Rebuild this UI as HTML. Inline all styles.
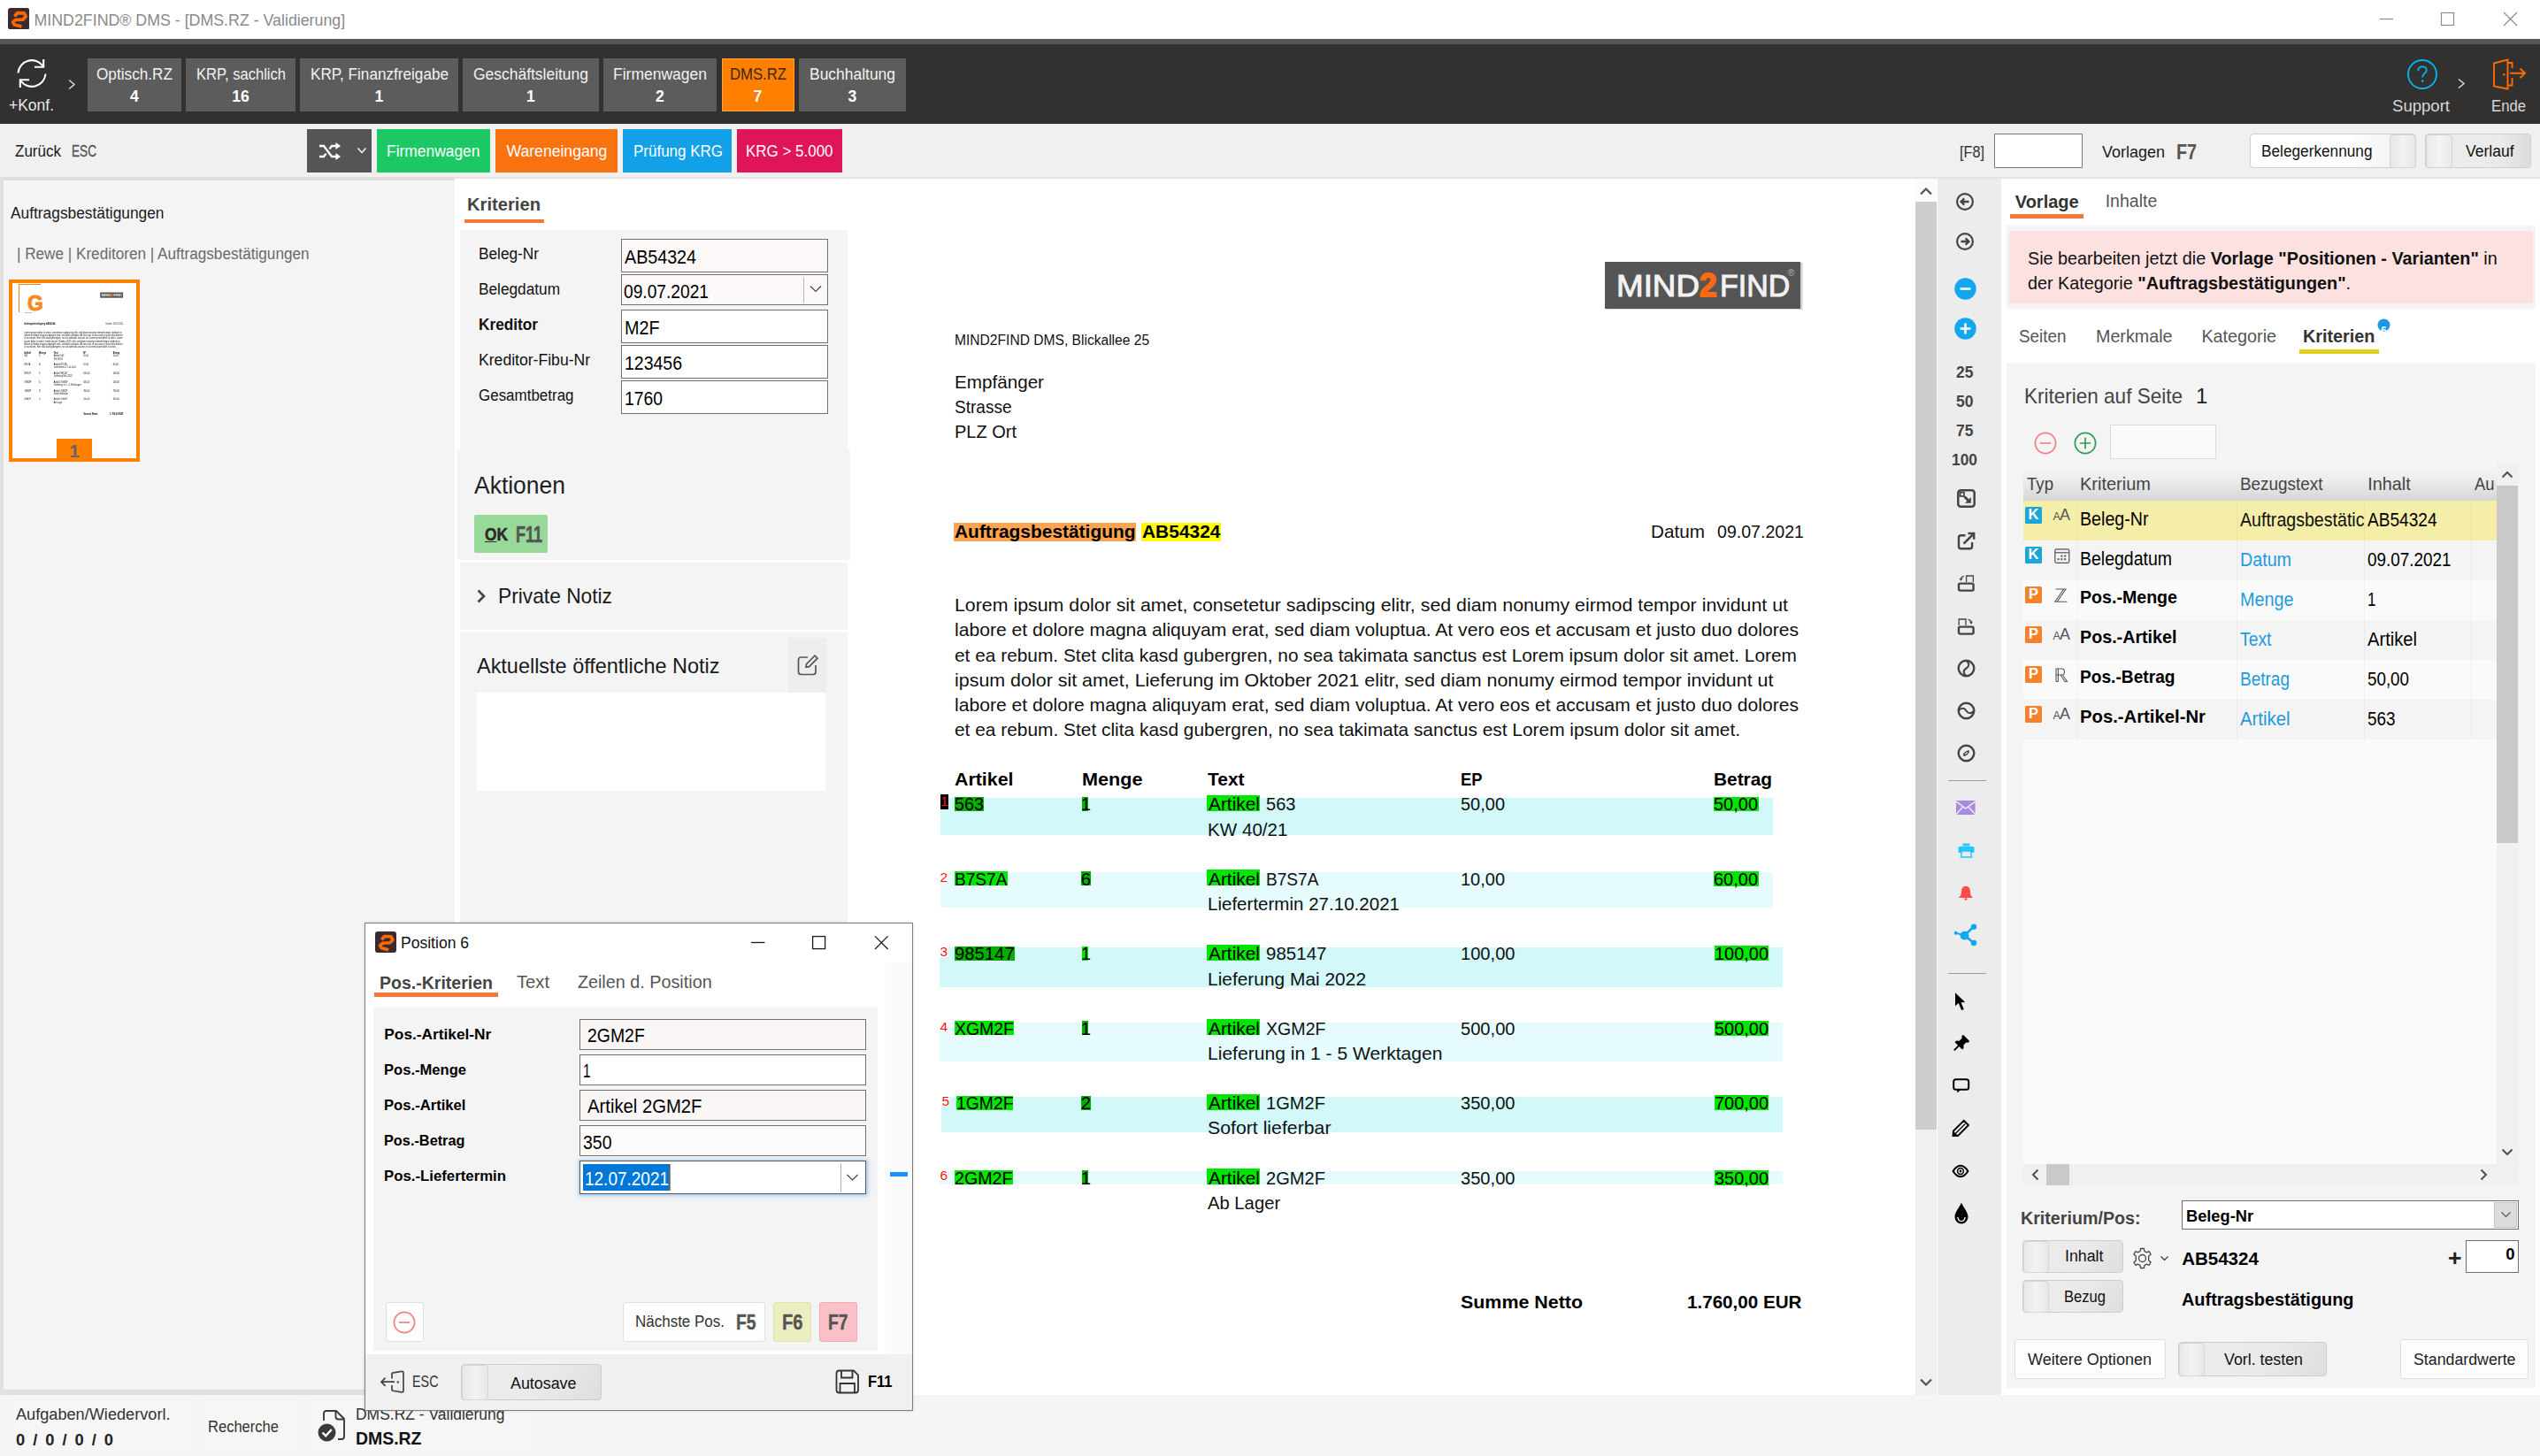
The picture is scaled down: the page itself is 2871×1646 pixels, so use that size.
<!DOCTYPE html>
<html><head><meta charset="utf-8"><title>MIND2FIND DMS</title>
<style>
html,body{margin:0;padding:0;background:#fff;}
body{width:2871px;height:1646px;position:relative;overflow:hidden;font-family:"Liberation Sans",sans-serif;}
.b{position:absolute;}
.t{position:absolute;white-space:nowrap;line-height:1;transform-origin:0 0;}
</style></head>
<body>
<div class="b" style="left:0.0px;top:0.0px;width:2871.0px;height:44.0px;background:#ffffff;"></div>
<svg class="b" style="left:8.8px;top:8.8px;" width="24.4" height="24.4" viewBox="0 0 24.4 24.4"><rect x="0" y="0" width="24.4" height="24.4" rx="3" fill="#3b2b30"/><path d="M6.6 10.2 L9.6 5.6 L17.6 4.8 L20.2 8.6 L17.4 12.6 L8.2 14.4 L5.6 17.6 L8 20.4 L16.8 21.4" fill="none" stroke="#ff6a00" stroke-width="4" stroke-linejoin="round" transform="rotate(8 12 12) translate(1 0.6) scale(0.93)"/></svg>
<span class="t" style="top:15.3px;font-size:17.8px;color:#8a8a8a;left:38.5px;">MIND2FIND® DMS - [DMS.RZ - Validierung]</span>
<svg class="b" style="left:2684.0px;top:8.0px;" width="170" height="28" viewBox="0 0 170 28"><g stroke="#8c8c8c" stroke-width="1.2" fill="none"><path d="M6 13.5H21"/><rect x="75.5" y="6.5" width="14" height="14"/><path d="M146 6 L161 21 M161 6 L146 21"/></g></svg>
<div class="b" style="left:0.0px;top:44.0px;width:2871.0px;height:6.0px;background:#555556;"></div>
<div class="b" style="left:0.0px;top:50.0px;width:2871.0px;height:90.0px;background:#323130;"></div>
<svg class="b" style="left:17.0px;top:64.0px;" width="38" height="38" viewBox="0 0 38 38"><g fill="none" stroke="#fff" stroke-width="2.1"><path d="M3.5 18.5 A15.5 15.5 0 0 1 31.5 10.5"/><path d="M34.5 19.5 A15.5 15.5 0 0 1 6.5 27.5"/><path d="M22 11.8 H32.2 V3"/><path d="M16 26.2 H5.8 V35"/></g></svg>
<span class="t" style="top:111.1px;font-size:17.6px;color:#e8e8e8;left:9.5px;transform:scaleX(0.9930);">+Konf.</span>
<svg class="b" style="left:76.0px;top:89.0px;" width="10" height="13" viewBox="0 0 10 13"><path d="M2 1.5 L8 6.5 L2 11.5" fill="none" stroke="#e0e0e0" stroke-width="1.4"/></svg>
<div class="b" style="left:99.0px;top:66.0px;width:106.0px;height:60.0px;background:#5c5c5c;"></div>
<span class="t" style="top:76.0px;font-size:17.6px;color:#f2f2f2;left:109.0px;transform:scaleX(0.9773);">Optisch.RZ</span>
<span class="t" style="top:100.8px;font-size:17.6px;color:#ffffff;font-weight:bold;left:147.1px;">4</span>
<div class="b" style="left:210.0px;top:66.0px;width:124.0px;height:60.0px;background:#5c5c5c;"></div>
<span class="t" style="top:76.0px;font-size:17.6px;color:#f2f2f2;left:221.5px;transform:scaleX(0.9417);">KRP, sachlich</span>
<span class="t" style="top:100.8px;font-size:17.6px;color:#ffffff;font-weight:bold;left:262.2px;">16</span>
<div class="b" style="left:339.0px;top:66.0px;width:179.0px;height:60.0px;background:#5c5c5c;"></div>
<span class="t" style="top:76.0px;font-size:17.6px;color:#f2f2f2;left:350.5px;transform:scaleX(0.9745);">KRP, Finanzfreigabe</span>
<span class="t" style="top:100.8px;font-size:17.6px;color:#ffffff;font-weight:bold;left:423.6px;">1</span>
<div class="b" style="left:523.0px;top:66.0px;width:154.0px;height:60.0px;background:#5c5c5c;"></div>
<span class="t" style="top:76.0px;font-size:17.6px;color:#f2f2f2;left:535.0px;transform:scaleX(0.9919);">Geschäftsleitung</span>
<span class="t" style="top:100.8px;font-size:17.6px;color:#ffffff;font-weight:bold;left:595.1px;">1</span>
<div class="b" style="left:682.0px;top:66.0px;width:128.0px;height:60.0px;background:#5c5c5c;"></div>
<span class="t" style="top:76.0px;font-size:17.6px;color:#f2f2f2;left:693.0px;transform:scaleX(0.9944);">Firmenwagen</span>
<span class="t" style="top:100.8px;font-size:17.6px;color:#ffffff;font-weight:bold;left:741.1px;">2</span>
<div class="b" style="left:815.5px;top:66.0px;width:82.0px;height:60.0px;background:#ff8000;border:1px solid #ffa040;box-sizing:border-box;"></div>
<span class="t" style="top:76.0px;font-size:17.6px;color:#3a2a10;left:824.5px;transform:scaleX(0.9490);">DMS.RZ</span>
<span class="t" style="top:100.8px;font-size:17.6px;color:#ffffff;font-weight:bold;left:851.6px;">7</span>
<div class="b" style="left:903.0px;top:66.0px;width:121.0px;height:60.0px;background:#5c5c5c;"></div>
<span class="t" style="top:76.0px;font-size:17.6px;color:#f2f2f2;left:915.0px;transform:scaleX(0.9915);">Buchhaltung</span>
<span class="t" style="top:100.8px;font-size:17.6px;color:#ffffff;font-weight:bold;left:958.6px;">3</span>
<svg class="b" style="left:2720.0px;top:66.0px;" width="36" height="36" viewBox="0 0 36 36"><circle cx="18" cy="18" r="16" fill="none" stroke="#00b7f1" stroke-width="1.8"/><path d="M13.2 14.2 C13.2 10.6 16 9.4 18.2 9.4 C20.8 9.4 22.8 11 22.8 13.4 C22.8 16.6 18.2 16.8 18.2 21.4" fill="none" stroke="#00b7f1" stroke-width="1.8"/><circle cx="18.2" cy="25.6" r="1.3" fill="#00b7f1"/></svg>
<span class="t" style="top:111.7px;font-size:17.6px;color:#d8d8d8;left:2704.0px;transform:scaleX(1.0548);">Support</span>
<svg class="b" style="left:2777.0px;top:88.0px;" width="10" height="13" viewBox="0 0 10 13"><path d="M2 1.5 L8 6.5 L2 11.5" fill="none" stroke="#e0e0e0" stroke-width="1.4"/></svg>
<svg class="b" style="left:2815.0px;top:64.0px;" width="42" height="40" viewBox="0 0 42 40"><g fill="none" stroke="#ff6a00" stroke-width="1.9"><path d="M4 7.5 L19.5 3.5 V36.5 L4 33.5 Z"/><path d="M19.5 7 H24.5 V13 M24.5 24 V32.5 H19.5"/><path d="M22 18.8 H39 M33.5 13.5 L39 18.8 L33.5 24"/></g><circle cx="15.3" cy="20.3" r="1.3" fill="#ff6a00"/></svg>
<span class="t" style="top:111.7px;font-size:17.6px;color:#d8d8d8;left:2815.5px;transform:scaleX(0.9490);">Ende</span>
<div class="b" style="left:0.0px;top:140.0px;width:2871.0px;height:60.0px;background:#f0f0f0;"></div>
<div class="b" style="left:0.0px;top:200.0px;width:2871.0px;height:2.0px;background:#e3e3e3;"></div>
<span class="t" style="top:163.4px;font-size:17.6px;color:#1a1a1a;left:17.3px;transform:scaleX(0.9669);">Zurück</span>
<span class="t" style="top:163.4px;font-size:17.6px;color:#555;left:80.5px;transform:scaleX(0.7737);-webkit-text-stroke:0.35px #555;">ESC</span>
<div class="b" style="left:347.0px;top:146.0px;width:73.0px;height:49.0px;background:#555555;"></div>
<svg class="b" style="left:360.0px;top:160.0px;" width="26" height="22" viewBox="0 0 26 22"><g fill="none" stroke="#fff" stroke-width="2.3"><path d="M1 5 H6 L15 17 H21"/><path d="M1 17 H6 L8.6 13.6 M12.4 8.4 L15 5 H21"/></g><path d="M19.5 1 L25 5 L19.5 9 Z M19.5 13 L25 17 L19.5 21 Z" fill="#fff"/></svg>
<svg class="b" style="left:403.0px;top:166.0px;" width="12" height="9" viewBox="0 0 12 9"><path d="M1.5 1.5 L6 6.5 L10.5 1.5" fill="none" stroke="#fff" stroke-width="1.4"/></svg>
<div class="b" style="left:426.0px;top:146.0px;width:128.0px;height:49.0px;background:#1cc864;"></div>
<span class="t" style="top:163.2px;font-size:17.6px;color:#fff;left:437.4px;transform:scaleX(0.9897);">Firmenwagen</span>
<div class="b" style="left:560.0px;top:146.0px;width:137.7px;height:49.0px;background:#f97210;"></div>
<span class="t" style="top:163.2px;font-size:17.6px;color:#fff;left:572.5px;">Wareneingang</span>
<div class="b" style="left:703.8px;top:146.0px;width:123.0px;height:49.0px;background:#12a0e8;"></div>
<span class="t" style="top:163.2px;font-size:17.6px;color:#fff;left:715.5px;transform:scaleX(0.9652);">Prüfung KRG</span>
<div class="b" style="left:832.8px;top:146.0px;width:119.2px;height:49.0px;background:#e01458;"></div>
<span class="t" style="top:163.2px;font-size:17.6px;color:#fff;left:843.0px;transform:scaleX(0.9636);">KRG &gt; 5.000</span>
<span class="t" style="top:163.7px;font-size:17.6px;color:#333;left:2215.4px;transform:scaleX(0.9237);">[F8]</span>
<div class="b" style="left:2254.0px;top:151.0px;width:100.0px;height:38.5px;background:#fff;border:1.3px solid #7a7a7a;box-sizing:border-box;"></div>
<span class="t" style="top:163.5px;font-size:17.6px;color:#1a1a1a;left:2376.0px;transform:scaleX(1.0220);">Vorlagen</span>
<span class="t" style="top:161.1px;font-size:23px;color:#555;font-weight:bold;left:2460.0px;transform:scaleX(0.8568);">F7</span>
<div class="b" style="left:2543.0px;top:151.0px;width:188.0px;height:39.0px;background:linear-gradient(90deg,#fff 0%,#fff 60%,#ececec 100%);border:1px solid #cfcfcf;box-sizing:border-box;border-radius:4px;"></div>
<div class="b" style="left:2700.5px;top:151.5px;width:30.0px;height:38.0px;background:linear-gradient(90deg,#e6e6e6,#f2f2f2 50%,#e6e6e6);border:1px solid #d4d4d4;box-sizing:border-box;border-radius:4px;"></div>
<span class="t" style="top:162.5px;font-size:17.6px;color:#111;left:2555.5px;transform:scaleX(0.9793);">Belegerkennung</span>
<div class="b" style="left:2741.0px;top:151.0px;width:120.0px;height:39.0px;background:linear-gradient(90deg,#ececec 0%,#eaeaea 70%,#dcdcdc 100%);border:1px solid #cfcfcf;box-sizing:border-box;border-radius:4px;"></div>
<div class="b" style="left:2741.5px;top:151.5px;width:30.5px;height:38.0px;background:linear-gradient(90deg,#e9e9e9,#f4f4f4 50%,#e9e9e9);border:1px solid #d4d4d4;box-sizing:border-box;border-radius:4px;"></div>
<span class="t" style="top:162.5px;font-size:17.6px;color:#111;left:2786.5px;transform:scaleX(0.9949);">Verlauf</span>
<div class="b" style="left:0.0px;top:200.0px;width:514.0px;height:1377.0px;background:#f4f4f4;"></div>
<div class="b" style="left:0.0px;top:200.0px;width:514.0px;height:4.0px;background:#dedede;"></div>
<div class="b" style="left:0.0px;top:200.0px;width:4.0px;height:1377.0px;background:#e0e0e0;"></div>
<div class="b" style="left:0.0px;top:1571.0px;width:514.0px;height:6.0px;background:#e0e0e0;"></div>
<span class="t" style="top:233.2px;font-size:17.6px;color:#1a1a1a;left:11.8px;transform:scaleX(0.9854);">Auftragsbestätigungen</span>
<span class="t" style="top:278.5px;font-size:17.6px;color:#6a6a6a;left:19.0px;transform:scaleX(0.9738);">| Rewe | Kreditoren | Auftragsbestätigungen</span>
<div class="b" style="left:10.0px;top:316.0px;width:148.0px;height:206.0px;background:#fff;border:4px solid #ff8000;box-sizing:border-box;"></div>
<div class="b" style="left:21.0px;top:321.0px;width:25.0px;height:1px;background:#ff8000"></div><div class="b" style="left:21.0px;top:321.0px;width:1.0px;height:32px;background:#ff8000"></div><div class="b" style="left:30.5px;top:330.5px;font-size:24px;line-height:1;font-weight:bold;color:#f58a1e;-webkit-text-stroke:1px #f58a1e;transform:scaleX(.95);transform-origin:0 0">G</div><div class="b" style="left:27.5px;top:352.5px;width:8.0px;height:1px;background:rgba(120,120,120,.5)"></div>
<div class="b" style="left:64.0px;top:496.0px;width:40.0px;height:22.5px;background:#ff8000;"></div>
<span class="t" style="top:498.9px;font-size:21px;color:#666;font-weight:bold;left:78.2px;">1</span>
<span class="t" style="top:221.2px;font-size:20.5px;color:#444;font-weight:bold;left:528.0px;transform:scaleX(0.9844);">Kriterien</span>
<div class="b" style="left:525.0px;top:247.5px;width:90.0px;height:4.5px;background:#f57a38;"></div>
<div class="b" style="left:519.7px;top:260.0px;width:438.3px;height:249.0px;background:#f4f4f4;"></div>
<span class="t" style="top:279.2px;font-size:17.6px;color:#111;left:541.0px;transform:scaleX(0.9795);">Beleg-Nr</span>
<div class="b" style="left:702.0px;top:270.3px;width:234.0px;height:37.4px;background:#fcf8f8;border:1.3px solid #707070;box-sizing:border-box;"></div>
<span class="t" style="top:281.1px;font-size:21.5px;color:#000;left:705.8px;transform:scaleX(0.9156);">AB54324</span>
<span class="t" style="top:319.2px;font-size:17.6px;color:#111;left:541.0px;transform:scaleX(0.9797);">Belegdatum</span>
<div class="b" style="left:702.0px;top:310.0px;width:234.0px;height:34.8px;background:#fcf8f8;border:1.3px solid #707070;box-sizing:border-box;"></div>
<span class="t" style="top:319.5px;font-size:21.5px;color:#000;left:704.8px;transform:scaleX(0.8921);">09.07.2021</span>
<span class="t" style="top:359.2px;font-size:17.6px;color:#111;font-weight:bold;left:541.0px;transform:scaleX(0.9790);">Kreditor</span>
<div class="b" style="left:702.0px;top:350.3px;width:234.0px;height:37.4px;background:#fff;border:1.3px solid #707070;box-sizing:border-box;"></div>
<span class="t" style="top:361.1px;font-size:21.5px;color:#000;left:705.8px;transform:scaleX(0.9186);">M2F</span>
<span class="t" style="top:399.2px;font-size:17.6px;color:#111;left:541.0px;">Kreditor-Fibu-Nr</span>
<div class="b" style="left:702.0px;top:390.3px;width:234.0px;height:37.4px;background:#fff;border:1.3px solid #707070;box-sizing:border-box;"></div>
<span class="t" style="top:401.1px;font-size:21.5px;color:#000;left:705.8px;transform:scaleX(0.9059);">123456</span>
<span class="t" style="top:439.2px;font-size:17.6px;color:#111;left:541.0px;transform:scaleX(0.9643);">Gesamtbetrag</span>
<div class="b" style="left:702.0px;top:430.3px;width:234.0px;height:37.4px;background:#fff;border:1.3px solid #707070;box-sizing:border-box;"></div>
<span class="t" style="top:441.1px;font-size:21.5px;color:#000;left:705.8px;transform:scaleX(0.8988);">1760</span>
<div class="b" style="left:908.0px;top:313.0px;width:1.2px;height:29.5px;background:#b8b8b8;"></div>
<svg class="b" style="left:914.0px;top:321.0px;" width="16" height="12" viewBox="0 0 16 12"><path d="M2 2.5 L8 8.5 L14 2.5" fill="none" stroke="#444" stroke-width="1.2"/></svg>
<div class="b" style="left:517.0px;top:509.0px;width:444.0px;height:123.5px;background:#f4f4f4;"></div>
<span class="t" style="top:535.1px;font-size:27.5px;color:#222;left:536.0px;transform:scaleX(0.9623);">Aktionen</span>
<div class="b" style="left:536.0px;top:581.7px;width:83.0px;height:42.9px;background:#98d898;border-radius:2px;"></div>
<span class="t" style="top:595.2px;font-size:19.5px;color:#2a2a2a;font-weight:bold;left:548.0px;transform:scaleX(0.8884);-webkit-text-stroke:0.5px #2a2a2a;"><u>O</u>K</span>
<span class="t" style="top:592.3px;font-size:25px;color:#555;font-weight:bold;left:583.0px;transform:scaleX(0.7194);-webkit-text-stroke:0.6px #555;">F11</span>
<div class="b" style="left:519.7px;top:636.0px;width:438.3px;height:75.6px;background:#f4f4f4;"></div>
<svg class="b" style="left:538.0px;top:665.0px;" width="12" height="18" viewBox="0 0 12 18"><path d="M2.5 2.5 L9 9 L2.5 15.5" fill="none" stroke="#444" stroke-width="2.6"/></svg>
<span class="t" style="top:662.1px;font-size:24px;color:#1a1a1a;left:563.0px;transform:scaleX(0.9482);">Private Notiz</span>
<div class="b" style="left:519.7px;top:715.0px;width:438.3px;height:862.0px;background:#f4f4f4;"></div>
<span class="t" style="top:741.4px;font-size:24px;color:#1a1a1a;left:539.0px;transform:scaleX(0.9767);">Aktuellste öffentliche Notiz</span>
<div class="b" style="left:891.0px;top:721.0px;width:42.5px;height:62.0px;background:#ededed;"></div>
<svg class="b" style="left:900.0px;top:739.0px;" width="26" height="26" viewBox="0 0 26 26"><g fill="none" stroke="#555" stroke-width="1.7"><path d="M13 4 H5.5 Q2.5 4 2.5 7 V20.5 Q2.5 23.5 5.5 23.5 H19 Q22 23.5 22 20.5 V13"/><path d="M11 15.2 L11.6 11.6 L21 2.2 L24 5.2 L14.6 14.6 Z"/></g></svg>
<div class="b" style="left:539.0px;top:783.0px;width:394.0px;height:111.0px;background:#fff;"></div>
<div class="b" style="left:1814.2px;top:295.7px;width:221.0px;height:53.5px;background:#555555;box-shadow:2.5px 0.8px 0 #cfcfcf;"></div>
<span class="t" style="top:305.6px;font-size:35.4px;color:#f2f2f2;left:1827.2px;transform:scaleX(1.0394);-webkit-text-stroke:1px #f2f2f2;">MIND</span>
<span class="t" style="top:304.2px;font-size:37px;color:#ff6a13;font-weight:bold;left:1921.4px;transform:scaleX(0.9525);-webkit-text-stroke:1.8px #ff6a13;">2</span>
<span class="t" style="top:305.6px;font-size:35.4px;color:#f2f2f2;left:1944.0px;transform:scaleX(0.9603);-webkit-text-stroke:1px #f2f2f2;">FIND</span>
<span class="t" style="top:303.3px;font-size:11px;color:#b0b0b0;left:2020.6px;">®</span>
<span class="t" style="top:376.8px;font-size:15.6px;color:#111;left:1079.0px;">MIND2FIND DMS, Blickallee 25</span>
<span class="t" style="top:422.2px;font-size:20.3px;color:#111;left:1079.0px;transform:scaleX(1.0180);">Empfänger</span>
<span class="t" style="top:450.2px;font-size:20.3px;color:#111;left:1079.0px;transform:scaleX(0.9380);">Strasse</span>
<span class="t" style="top:478.2px;font-size:20.3px;color:#111;left:1079.0px;transform:scaleX(0.9859);">PLZ Ort</span>
<div class="b" style="left:1078.0px;top:591.0px;width:206.0px;height:20.8px;background:#ffa550;"></div>
<div class="b" style="left:1290.0px;top:591.0px;width:89.5px;height:20.8px;background:#ffff00;"></div>
<span class="t" style="top:590.8px;font-size:20.3px;color:#000;font-weight:bold;left:1079.0px;transform:scaleX(1.0312);">Auftragsbestätigung</span>
<span class="t" style="top:590.8px;font-size:20.3px;color:#000;font-weight:bold;left:1290.5px;transform:scaleX(1.0326);">AB54324</span>
<span class="t" style="top:590.5px;font-size:20.3px;color:#111;left:1866.0px;transform:scaleX(1.0209);">Datum</span>
<span class="t" style="top:590.5px;font-size:20.3px;color:#111;left:1940.5px;transform:scaleX(0.9654);">09.07.2021</span>
<span class="t" style="top:674.2px;font-size:20.3px;color:#111;left:1079.0px;transform:scaleX(1.0524);">Lorem ipsum dolor sit amet, consetetur sadipscing elitr, sed diam nonumy eirmod tempor invidunt ut</span>
<span class="t" style="top:702.4px;font-size:20.3px;color:#111;left:1079.0px;transform:scaleX(1.0408);">labore et dolore magna aliquyam erat, sed diam voluptua. At vero eos et accusam et justo duo dolores</span>
<span class="t" style="top:730.5px;font-size:20.3px;color:#111;left:1079.0px;transform:scaleX(1.0286);">et ea rebum. Stet clita kasd gubergren, no sea takimata sanctus est Lorem ipsum dolor sit amet. Lorem</span>
<span class="t" style="top:758.7px;font-size:20.3px;color:#111;left:1079.0px;transform:scaleX(1.0566);">ipsum dolor sit amet, Lieferung im Oktober 2021 elitr, sed diam nonumy eirmod tempor invidunt ut</span>
<span class="t" style="top:786.8px;font-size:20.3px;color:#111;left:1079.0px;transform:scaleX(1.0408);">labore et dolore magna aliquyam erat, sed diam voluptua. At vero eos et accusam et justo duo dolores</span>
<span class="t" style="top:815.0px;font-size:20.3px;color:#111;left:1079.0px;transform:scaleX(1.0297);">et ea rebum. Stet clita kasd gubergren, no sea takimata sanctus est Lorem ipsum dolor sit amet.</span>
<span class="t" style="top:871.2px;font-size:20.3px;color:#000;font-weight:bold;left:1079.0px;transform:scaleX(1.0535);">Artikel</span>
<span class="t" style="top:871.2px;font-size:20.3px;color:#000;font-weight:bold;left:1222.5px;transform:scaleX(1.0664);">Menge</span>
<span class="t" style="top:871.2px;font-size:20.3px;color:#000;font-weight:bold;left:1364.9px;transform:scaleX(1.0323);">Text</span>
<span class="t" style="top:871.2px;font-size:20.3px;color:#000;font-weight:bold;left:1651.0px;transform:scaleX(0.9053);">EP</span>
<span class="t" style="top:871.2px;font-size:20.3px;color:#000;font-weight:bold;left:1937.4px;transform:scaleX(1.0272);">Betrag</span>
<div class="b" style="left:1062.6px;top:901.6px;width:941.4px;height:42.6px;background:#d3f8fa;"></div>
<div class="b" style="left:1062.6px;top:898.0px;width:9.6px;height:17.0px;background:#000;"></div>
<span class="t" style="top:897.5px;font-size:15.5px;color:#ff1010;left:1063.1px;">1</span>
<div class="b" style="left:1079.0px;top:901.0px;width:33.3px;height:16.1px;background:#02b002;"></div>
<span class="t" style="top:899.4px;font-size:20.3px;color:#000;left:1079.0px;transform:scaleX(0.9751);">563</span>
<div class="b" style="left:1222.7px;top:901.0px;width:7.5px;height:16.1px;background:#02b002;"></div>
<span class="t" style="top:899.4px;font-size:20.3px;color:#000;left:1221.7px;">1</span>
<div class="b" style="left:1364.3px;top:898.9px;width:59.9px;height:18.2px;background:#03e603;"></div>
<span class="t" style="top:899.4px;font-size:20.3px;color:#000;left:1365.5px;transform:scaleX(1.0291);">Artikel</span>
<span class="t" style="top:899.4px;font-size:20.3px;color:#111;left:1430.5px;transform:scaleX(0.9898);">563</span>
<span class="t" style="top:927.6px;font-size:20.3px;color:#111;left:1364.9px;transform:scaleX(1.0161);">KW 40/21</span>
<span class="t" style="top:899.4px;font-size:20.3px;color:#111;left:1651.0px;transform:scaleX(0.9849);">50,00</span>
<div class="b" style="left:1937.1px;top:900.6px;width:50.6px;height:16.9px;background:#03e603;"></div>
<span class="t" style="top:899.4px;font-size:20.3px;color:#000;left:1937.4px;transform:scaleX(0.9849);">50,00</span>
<div class="b" style="left:1062.6px;top:986.4px;width:941.4px;height:40.1px;background:#e5fbfd;"></div>
<div class="b" style="left:1062.3px;top:984.0px;width:9.3px;height:13.2px;background:#fff;"></div>
<span class="t" style="top:983.8px;font-size:15.5px;color:#ff1010;left:1062.6px;">2</span>
<div class="b" style="left:1079.0px;top:985.4px;width:59.8px;height:16.1px;background:#03e603;"></div>
<span class="t" style="top:983.9px;font-size:20.3px;color:#000;left:1079.0px;transform:scaleX(0.9421);">B7S7A</span>
<div class="b" style="left:1222.2px;top:985.4px;width:11.0px;height:16.1px;background:#02b002;"></div>
<span class="t" style="top:983.9px;font-size:20.3px;color:#000;left:1221.7px;">6</span>
<div class="b" style="left:1364.3px;top:983.3px;width:59.9px;height:18.2px;background:#03e603;"></div>
<span class="t" style="top:983.9px;font-size:20.3px;color:#000;left:1365.5px;transform:scaleX(1.0291);">Artikel</span>
<span class="t" style="top:983.9px;font-size:20.3px;color:#111;left:1430.5px;transform:scaleX(0.9421);">B7S7A</span>
<span class="t" style="top:1012.1px;font-size:20.3px;color:#111;left:1364.9px;transform:scaleX(1.0129);">Liefertermin 27.10.2021</span>
<span class="t" style="top:983.9px;font-size:20.3px;color:#111;left:1651.0px;transform:scaleX(0.9849);">10,00</span>
<div class="b" style="left:1937.1px;top:985.0px;width:50.6px;height:16.9px;background:#03e603;"></div>
<span class="t" style="top:983.9px;font-size:20.3px;color:#000;left:1937.4px;transform:scaleX(0.9849);">60,00</span>
<div class="b" style="left:1062.0px;top:1070.6px;width:953.0px;height:45.1px;background:#d3f8fa;"></div>
<div class="b" style="left:1062.3px;top:1068.4px;width:9.3px;height:13.2px;background:#fff;"></div>
<span class="t" style="top:1068.2px;font-size:15.5px;color:#ff1010;left:1062.6px;">3</span>
<div class="b" style="left:1079.0px;top:1069.8px;width:67.8px;height:16.1px;background:#02b002;"></div>
<span class="t" style="top:1068.3px;font-size:20.3px;color:#000;left:1079.0px;">985147</span>
<div class="b" style="left:1222.7px;top:1069.8px;width:7.5px;height:16.1px;background:#03e603;"></div>
<span class="t" style="top:1068.3px;font-size:20.3px;color:#000;left:1221.7px;">1</span>
<div class="b" style="left:1364.3px;top:1067.7px;width:59.9px;height:18.2px;background:#03e603;"></div>
<span class="t" style="top:1068.3px;font-size:20.3px;color:#000;left:1365.5px;transform:scaleX(1.0291);">Artikel</span>
<span class="t" style="top:1068.3px;font-size:20.3px;color:#111;left:1430.5px;transform:scaleX(1.0120);">985147</span>
<span class="t" style="top:1096.5px;font-size:20.3px;color:#111;left:1364.9px;transform:scaleX(1.0309);">Lieferung Mai 2022</span>
<span class="t" style="top:1068.3px;font-size:20.3px;color:#111;left:1651.0px;transform:scaleX(0.9912);">100,00</span>
<div class="b" style="left:1937.5px;top:1069.4px;width:61.6px;height:16.9px;background:#03e603;"></div>
<span class="t" style="top:1068.3px;font-size:20.3px;color:#000;left:1937.8px;transform:scaleX(0.9831);">100,00</span>
<div class="b" style="left:1062.0px;top:1155.8px;width:953.0px;height:44.6px;background:#e5fbfd;"></div>
<div class="b" style="left:1062.3px;top:1152.9px;width:9.3px;height:13.2px;background:#fff;"></div>
<span class="t" style="top:1152.6px;font-size:15.5px;color:#ff1010;left:1062.6px;">4</span>
<div class="b" style="left:1079.0px;top:1154.3px;width:67.3px;height:16.1px;background:#03e603;"></div>
<span class="t" style="top:1152.7px;font-size:20.3px;color:#000;left:1079.0px;transform:scaleX(0.9589);">XGM2F</span>
<div class="b" style="left:1222.7px;top:1154.3px;width:7.5px;height:16.1px;background:#02b002;"></div>
<span class="t" style="top:1152.7px;font-size:20.3px;color:#000;left:1221.7px;">1</span>
<div class="b" style="left:1364.3px;top:1152.2px;width:59.9px;height:18.2px;background:#03e603;"></div>
<span class="t" style="top:1152.7px;font-size:20.3px;color:#000;left:1365.5px;transform:scaleX(1.0291);">Artikel</span>
<span class="t" style="top:1152.7px;font-size:20.3px;color:#111;left:1430.5px;transform:scaleX(0.9660);">XGM2F</span>
<span class="t" style="top:1180.9px;font-size:20.3px;color:#111;left:1364.9px;transform:scaleX(1.0389);">Lieferung in 1 - 5 Werktagen</span>
<span class="t" style="top:1152.7px;font-size:20.3px;color:#111;left:1651.0px;transform:scaleX(0.9912);">500,00</span>
<div class="b" style="left:1937.5px;top:1153.9px;width:61.6px;height:16.9px;background:#03e603;"></div>
<span class="t" style="top:1152.7px;font-size:20.3px;color:#000;left:1937.8px;transform:scaleX(0.9831);">500,00</span>
<div class="b" style="left:1064.0px;top:1240.0px;width:951.0px;height:39.6px;background:#d3f8fa;"></div>
<div class="b" style="left:1064.2px;top:1237.3px;width:9.3px;height:13.2px;background:#fff;"></div>
<span class="t" style="top:1237.0px;font-size:15.5px;color:#ff1010;left:1064.5px;">5</span>
<div class="b" style="left:1080.5px;top:1238.7px;width:64.8px;height:16.1px;background:#03e603;"></div>
<span class="t" style="top:1237.1px;font-size:20.3px;color:#000;left:1080.5px;transform:scaleX(0.9538);">1GM2F</span>
<div class="b" style="left:1222.2px;top:1238.7px;width:11.0px;height:16.1px;background:#02b002;"></div>
<span class="t" style="top:1237.1px;font-size:20.3px;color:#000;left:1221.7px;">2</span>
<div class="b" style="left:1364.3px;top:1236.6px;width:59.9px;height:18.2px;background:#03e603;"></div>
<span class="t" style="top:1237.1px;font-size:20.3px;color:#000;left:1365.5px;transform:scaleX(1.0291);">Artikel</span>
<span class="t" style="top:1237.1px;font-size:20.3px;color:#111;left:1430.5px;transform:scaleX(0.9908);">1GM2F</span>
<span class="t" style="top:1265.3px;font-size:20.3px;color:#111;left:1364.9px;transform:scaleX(1.0486);">Sofort lieferbar</span>
<span class="t" style="top:1237.1px;font-size:20.3px;color:#111;left:1651.0px;transform:scaleX(0.9912);">350,00</span>
<div class="b" style="left:1937.5px;top:1238.3px;width:61.6px;height:16.9px;background:#03e603;"></div>
<span class="t" style="top:1237.1px;font-size:20.3px;color:#000;left:1937.8px;transform:scaleX(0.9831);">700,00</span>
<div class="b" style="left:1062.0px;top:1323.8px;width:953.0px;height:15.0px;background:#e5fbfd;"></div>
<div class="b" style="left:1062.3px;top:1321.7px;width:9.3px;height:13.2px;background:#fff;"></div>
<span class="t" style="top:1321.4px;font-size:15.5px;color:#ff1010;left:1062.6px;">6</span>
<div class="b" style="left:1079.0px;top:1323.1px;width:65.8px;height:16.1px;background:#03e603;"></div>
<span class="t" style="top:1321.5px;font-size:20.3px;color:#000;left:1079.0px;transform:scaleX(0.9686);">2GM2F</span>
<div class="b" style="left:1222.7px;top:1323.1px;width:7.5px;height:16.1px;background:#02b002;"></div>
<span class="t" style="top:1321.5px;font-size:20.3px;color:#000;left:1221.7px;">1</span>
<div class="b" style="left:1364.3px;top:1321.0px;width:59.9px;height:18.2px;background:#03e603;"></div>
<span class="t" style="top:1321.5px;font-size:20.3px;color:#000;left:1365.5px;transform:scaleX(1.0291);">Artikel</span>
<span class="t" style="top:1321.5px;font-size:20.3px;color:#111;left:1430.5px;transform:scaleX(0.9908);">2GM2F</span>
<span class="t" style="top:1349.7px;font-size:20.3px;color:#111;left:1364.9px;">Ab Lager</span>
<span class="t" style="top:1321.5px;font-size:20.3px;color:#111;left:1651.0px;transform:scaleX(0.9912);">350,00</span>
<div class="b" style="left:1937.5px;top:1322.7px;width:61.6px;height:16.9px;background:#03e603;"></div>
<span class="t" style="top:1321.5px;font-size:20.3px;color:#000;left:1937.8px;transform:scaleX(0.9831);">350,00</span>
<span class="t" style="top:1462.2px;font-size:20.3px;color:#000;font-weight:bold;left:1650.6px;transform:scaleX(1.0556);">Summe Netto</span>
<span class="t" style="top:1462.2px;font-size:20.3px;color:#000;font-weight:bold;left:1907.3px;transform:scaleX(1.0164);">1.760,00 EUR</span>
<div class="b" style="left:-99px;top:296.3px;width:2871px;height:1646px;transform:scale(0.117,0.1166);transform-origin:0 0;">
<div class="b" style="left:1814.2px;top:295.7px;width:221.0px;height:53.5px;background:#555555;"></div>
<span class="t" style="top:305.6px;font-size:35.4px;color:#f2f2f2;left:1827.2px;transform:scaleX(1.0394);-webkit-text-stroke:1px #f2f2f2;">MIND</span>
<span class="t" style="top:304.2px;font-size:37px;color:#ff6a13;font-weight:bold;left:1921.4px;transform:scaleX(0.9525);-webkit-text-stroke:1.8px #ff6a13;">2</span>
<span class="t" style="top:305.6px;font-size:35.4px;color:#f2f2f2;left:1944.0px;transform:scaleX(0.9603);-webkit-text-stroke:1px #f2f2f2;">FIND</span>
<span class="t" style="top:587.7px;font-size:27.405px;color:#000;font-weight:bold;left:1079.0px;transform:scaleX(0.7635);">Auftragsbestätigung</span>
<span class="t" style="top:587.7px;font-size:27.405px;color:#000;font-weight:bold;left:1290.5px;transform:scaleX(0.7647);">AB54324</span>
<span class="t" style="top:587.4px;font-size:27.405px;color:#111;left:1866.0px;transform:scaleX(0.7560);">Datum</span>
<span class="t" style="top:587.4px;font-size:27.405px;color:#111;left:1940.5px;transform:scaleX(0.7148);">09.07.2021</span>
<span class="t" style="top:671.1px;font-size:27.405px;color:#111;left:1079.0px;transform:scaleX(0.7793);">Lorem ipsum dolor sit amet, consetetur sadipscing elitr, sed diam nonumy eirmod tempor invidunt ut</span>
<span class="t" style="top:699.3px;font-size:27.405px;color:#111;left:1079.0px;transform:scaleX(0.7707);">labore et dolore magna aliquyam erat, sed diam voluptua. At vero eos et accusam et justo duo dolores</span>
<span class="t" style="top:727.4px;font-size:27.405px;color:#111;left:1079.0px;transform:scaleX(0.7616);">et ea rebum. Stet clita kasd gubergren, no sea takimata sanctus est Lorem ipsum dolor sit amet. Lorem</span>
<span class="t" style="top:755.6px;font-size:27.405px;color:#111;left:1079.0px;transform:scaleX(0.7824);">ipsum dolor sit amet, Lieferung im Oktober 2021 elitr, sed diam nonumy eirmod tempor invidunt ut</span>
<span class="t" style="top:783.7px;font-size:27.405px;color:#111;left:1079.0px;transform:scaleX(0.7707);">labore et dolore magna aliquyam erat, sed diam voluptua. At vero eos et accusam et justo duo dolores</span>
<span class="t" style="top:811.9px;font-size:27.405px;color:#111;left:1079.0px;transform:scaleX(0.7624);">et ea rebum. Stet clita kasd gubergren, no sea takimata sanctus est Lorem ipsum dolor sit amet.</span>
<span class="t" style="top:868.1px;font-size:27.405px;color:#000;font-weight:bold;left:1079.0px;transform:scaleX(0.7801);">Artikel</span>
<span class="t" style="top:868.1px;font-size:27.405px;color:#000;font-weight:bold;left:1222.5px;transform:scaleX(0.7896);">Menge</span>
<span class="t" style="top:868.1px;font-size:27.405px;color:#000;font-weight:bold;left:1364.9px;transform:scaleX(0.7643);">Text</span>
<span class="t" style="top:868.1px;font-size:27.405px;color:#000;font-weight:bold;left:1651.0px;transform:scaleX(0.6704);">EP</span>
<span class="t" style="top:868.1px;font-size:27.405px;color:#000;font-weight:bold;left:1937.4px;transform:scaleX(0.7607);">Betrag</span>
<span class="t" style="top:896.3px;font-size:27.405px;color:#000;left:1079.0px;transform:scaleX(0.7221);">563</span>
<span class="t" style="top:896.3px;font-size:27.405px;color:#000;left:1221.7px;">1</span>
<span class="t" style="top:896.3px;font-size:27.405px;color:#000;left:1365.5px;transform:scaleX(0.7621);">Artikel</span>
<span class="t" style="top:896.3px;font-size:27.405px;color:#111;left:1430.5px;transform:scaleX(0.7330);">563</span>
<span class="t" style="top:924.5px;font-size:27.405px;color:#111;left:1364.9px;transform:scaleX(0.7524);">KW 40/21</span>
<span class="t" style="top:896.3px;font-size:27.405px;color:#111;left:1651.0px;transform:scaleX(0.7294);">50,00</span>
<span class="t" style="top:896.3px;font-size:27.405px;color:#000;left:1937.4px;transform:scaleX(0.7294);">50,00</span>
<span class="t" style="top:980.7px;font-size:27.405px;color:#000;left:1079.0px;transform:scaleX(0.6977);">B7S7A</span>
<span class="t" style="top:980.7px;font-size:27.405px;color:#000;left:1221.7px;">6</span>
<span class="t" style="top:980.7px;font-size:27.405px;color:#000;left:1365.5px;transform:scaleX(0.7621);">Artikel</span>
<span class="t" style="top:980.7px;font-size:27.405px;color:#111;left:1430.5px;transform:scaleX(0.6977);">B7S7A</span>
<span class="t" style="top:1008.9px;font-size:27.405px;color:#111;left:1364.9px;transform:scaleX(0.7500);">Liefertermin 27.10.2021</span>
<span class="t" style="top:980.7px;font-size:27.405px;color:#111;left:1651.0px;transform:scaleX(0.7294);">10,00</span>
<span class="t" style="top:980.7px;font-size:27.405px;color:#000;left:1937.4px;transform:scaleX(0.7294);">60,00</span>
<span class="t" style="top:1065.1px;font-size:27.405px;color:#000;left:1079.0px;transform:scaleX(0.7385);">985147</span>
<span class="t" style="top:1065.1px;font-size:27.405px;color:#000;left:1221.7px;">1</span>
<span class="t" style="top:1065.1px;font-size:27.405px;color:#000;left:1365.5px;transform:scaleX(0.7621);">Artikel</span>
<span class="t" style="top:1065.1px;font-size:27.405px;color:#111;left:1430.5px;transform:scaleX(0.7494);">985147</span>
<span class="t" style="top:1093.3px;font-size:27.405px;color:#111;left:1364.9px;transform:scaleX(0.7633);">Lieferung Mai 2022</span>
<span class="t" style="top:1065.1px;font-size:27.405px;color:#111;left:1651.0px;transform:scaleX(0.7341);">100,00</span>
<span class="t" style="top:1065.1px;font-size:27.405px;color:#000;left:1937.8px;transform:scaleX(0.7281);">100,00</span>
<span class="t" style="top:1149.6px;font-size:27.405px;color:#000;left:1079.0px;transform:scaleX(0.7101);">XGM2F</span>
<span class="t" style="top:1149.6px;font-size:27.405px;color:#000;left:1221.7px;">1</span>
<span class="t" style="top:1149.6px;font-size:27.405px;color:#000;left:1365.5px;transform:scaleX(0.7621);">Artikel</span>
<span class="t" style="top:1149.6px;font-size:27.405px;color:#111;left:1430.5px;transform:scaleX(0.7154);">XGM2F</span>
<span class="t" style="top:1177.8px;font-size:27.405px;color:#111;left:1364.9px;transform:scaleX(0.7693);">Lieferung in 1 - 5 Werktagen</span>
<span class="t" style="top:1149.6px;font-size:27.405px;color:#111;left:1651.0px;transform:scaleX(0.7341);">500,00</span>
<span class="t" style="top:1149.6px;font-size:27.405px;color:#000;left:1937.8px;transform:scaleX(0.7281);">500,00</span>
<span class="t" style="top:1234.0px;font-size:27.405px;color:#000;left:1080.5px;transform:scaleX(0.7062);">1GM2F</span>
<span class="t" style="top:1234.0px;font-size:27.405px;color:#000;left:1221.7px;">2</span>
<span class="t" style="top:1234.0px;font-size:27.405px;color:#000;left:1365.5px;transform:scaleX(0.7621);">Artikel</span>
<span class="t" style="top:1234.0px;font-size:27.405px;color:#111;left:1430.5px;transform:scaleX(0.7336);">1GM2F</span>
<span class="t" style="top:1262.2px;font-size:27.405px;color:#111;left:1364.9px;transform:scaleX(0.7765);">Sofort lieferbar</span>
<span class="t" style="top:1234.0px;font-size:27.405px;color:#111;left:1651.0px;transform:scaleX(0.7341);">350,00</span>
<span class="t" style="top:1234.0px;font-size:27.405px;color:#000;left:1937.8px;transform:scaleX(0.7281);">700,00</span>
<span class="t" style="top:1318.4px;font-size:27.405px;color:#000;left:1079.0px;transform:scaleX(0.7172);">2GM2F</span>
<span class="t" style="top:1318.4px;font-size:27.405px;color:#000;left:1221.7px;">1</span>
<span class="t" style="top:1318.4px;font-size:27.405px;color:#000;left:1365.5px;transform:scaleX(0.7621);">Artikel</span>
<span class="t" style="top:1318.4px;font-size:27.405px;color:#111;left:1430.5px;transform:scaleX(0.7336);">2GM2F</span>
<span class="t" style="top:1346.6px;font-size:27.405px;color:#111;left:1364.9px;transform:scaleX(0.7421);">Ab Lager</span>
<span class="t" style="top:1318.4px;font-size:27.405px;color:#111;left:1651.0px;transform:scaleX(0.7341);">350,00</span>
<span class="t" style="top:1318.4px;font-size:27.405px;color:#000;left:1937.8px;transform:scaleX(0.7281);">350,00</span>
<span class="t" style="top:1459.1px;font-size:27.405px;color:#000;font-weight:bold;left:1650.6px;transform:scaleX(0.7817);">Summe Netto</span>
<span class="t" style="top:1459.1px;font-size:27.405px;color:#000;font-weight:bold;left:1907.3px;transform:scaleX(0.7526);">1.760,00 EUR</span>
</div>
<div class="b" style="left:2165.0px;top:202.0px;width:24.0px;height:1375.0px;background:#f0f0f0;"></div>
<div class="b" style="left:2165.0px;top:202.0px;width:24.0px;height:26.0px;background:#fbfbfb;"></div>
<div class="b" style="left:2165.0px;top:228.0px;width:24.0px;height:1049.0px;background:#cdcdcd;"></div>
<svg class="b" style="left:2169.0px;top:211.0px;" width="16" height="10" viewBox="0 0 16 10"><path d="M2 8.5 L8 2.5 L14 8.5" fill="none" stroke="#505050" stroke-width="2.2"/></svg>
<svg class="b" style="left:2169.0px;top:1558.0px;" width="16" height="10" viewBox="0 0 16 10"><path d="M2 1.5 L8 7.5 L14 1.5" fill="none" stroke="#505050" stroke-width="2.2"/></svg>
<div class="b" style="left:2189.5px;top:202.0px;width:72.5px;height:1375.0px;background:#ececec;"></div>
<svg class="b" style="left:2211.0px;top:218.0px;" width="20" height="20" viewBox="0 0 20 20"><circle cx="10" cy="10" r="8.9" fill="none" stroke="#444" stroke-width="2.2"/><path d="M14.5 10 H6 M9.3 6.4 L5.6 10 L9.3 13.6" fill="none" stroke="#444" stroke-width="2.3"/></svg>
<svg class="b" style="left:2211.0px;top:262.7px;" width="20" height="20" viewBox="0 0 20 20"><circle cx="10" cy="10" r="8.9" fill="none" stroke="#444" stroke-width="2.2"/><path d="M5.5 10 H14 M10.7 6.4 L14.4 10 L10.7 13.6" fill="none" stroke="#444" stroke-width="2.3"/></svg>
<svg class="b" style="left:2208.5px;top:313.5px;" width="25" height="25" viewBox="0 0 25 25"><circle cx="12.5" cy="12.5" r="12.2" fill="#12a8f0"/><path d="M6.5 12.5 H18.5" stroke="#fff" stroke-width="2.6"/></svg>
<svg class="b" style="left:2208.5px;top:358.5px;" width="25" height="25" viewBox="0 0 25 25"><circle cx="12.5" cy="12.5" r="12.2" fill="#12a8f0"/><path d="M6.5 12.5 H18.5 M12.5 6.5 V18.5" stroke="#fff" stroke-width="2.6"/></svg>
<span class="t" style="top:413.4px;font-size:17.8px;color:#444;font-weight:bold;left:2210.8px;transform:scaleX(0.9858);">25</span>
<span class="t" style="top:446.4px;font-size:17.8px;color:#444;font-weight:bold;left:2210.8px;transform:scaleX(0.9858);">50</span>
<span class="t" style="top:479.4px;font-size:17.8px;color:#444;font-weight:bold;left:2210.8px;transform:scaleX(0.9858);">75</span>
<span class="t" style="top:512.2px;font-size:17.8px;color:#444;font-weight:bold;left:2206.0px;transform:scaleX(0.9774);">100</span>
<svg class="b" style="left:2211.5px;top:552.5px;" width="21" height="21" viewBox="0 0 21 21"><rect x="1.3" y="1.3" width="18.4" height="18.4" rx="3" fill="none" stroke="#444" stroke-width="2.5"/><rect x="3.6" y="3.6" width="4.4" height="4.4" fill="none" stroke="#444" stroke-width="1.7"/><path d="M8.5 8.5 L13.5 13.5" fill="none" stroke="#444" stroke-width="2.8"/><path d="M15.8 9 V15.8 H9 Z" fill="#444"/></svg>
<svg class="b" style="left:2211.5px;top:600.5px;" width="22" height="22" viewBox="0 0 22 22"><g fill="none" stroke="#444" stroke-width="2.4"><path d="M9.5 4.2 H4.5 Q2 4.2 2 6.7 V16.8 Q2 19.3 4.5 19.3 H14.6 Q17.1 19.3 17.1 16.8 V12"/><path d="M7.6 13.6 L18.4 2.8" stroke-width="2.6"/><path d="M12.5 2 H19.2 V8.7"/></g></svg>
<svg class="b" style="left:2211.5px;top:648.4px;" width="22" height="22" viewBox="0 0 22 22"><g fill="none" stroke="#444"><rect x="2" y="11.6" width="16.6" height="8" rx="1.6" stroke-width="2.4"/><path d="M10.6 10 V3 H18.4 V10" stroke-width="1.3"/><path d="M8 3.4 Q4.6 3.6 4.4 8" stroke-width="1.4"/></g><path d="M2.6 5.8 H6.6 L4.5 8.8 Z" fill="#444"/></svg>
<svg class="b" style="left:2211.5px;top:696.5px;" width="22" height="22" viewBox="0 0 22 22"><g fill="none" stroke="#444"><rect x="2" y="11.6" width="16.6" height="8" rx="1.6" stroke-width="2.4"/><path d="M2.2 10 V3 H10 V10" stroke-width="1.3"/><path d="M12.6 3.4 Q16 3.6 16.2 8" stroke-width="1.4"/></g><path d="M14 5.8 H18 L16.1 8.8 Z" fill="#444"/></svg>
<svg class="b" style="left:2211.5px;top:744.5px;" width="21" height="21" viewBox="0 0 21 21"><g fill="none" stroke="#444" stroke-width="2.4"><circle cx="10.5" cy="10.5" r="8.8"/><path d="M10.5 1.8 C14.2 4.8 14.2 8.2 10.5 10.5 C6.8 12.8 6.8 16.2 10.5 19.2" stroke-width="2.1"/></g></svg>
<svg class="b" style="left:2211.5px;top:792.8px;" width="21" height="21" viewBox="0 0 21 21"><g fill="none" stroke="#444" stroke-width="2.4"><circle cx="10.5" cy="10.5" r="8.8"/><path d="M1.8 10.5 C4.8 6.8 8.2 6.8 10.5 10.5 C12.8 14.2 16.2 14.2 19.2 10.5" stroke-width="2.1"/></g></svg>
<svg class="b" style="left:2211.5px;top:840.5px;" width="21" height="21" viewBox="0 0 21 21"><circle cx="10.5" cy="10.5" r="8.8" fill="none" stroke="#444" stroke-width="2.4"/><ellipse cx="10.5" cy="10.5" rx="4.3" ry="1.9" transform="rotate(-42 10.5 10.5)" fill="#444"/><ellipse cx="10.5" cy="10.5" rx="2" ry="0.6" transform="rotate(-42 10.5 10.5)" fill="#ececec"/></svg>
<div class="b" style="left:2202.0px;top:881.5px;width:42.6px;height:1.2px;background:#9a9a9a;"></div>
<svg class="b" style="left:2210.5px;top:904.5px;" width="22" height="16" viewBox="0 0 22 16"><rect x="0" y="0" width="21.6" height="16" fill="#a78bdc"/><path d="M0 1 L10.8 9 L21.6 1 M0 15.5 L7.5 7.5 M21.6 15.5 L14.1 7.5" fill="none" stroke="#ececec" stroke-width="1.5"/></svg>
<svg class="b" style="left:2212.5px;top:953.0px;" width="19" height="17" viewBox="0 0 19 17"><path d="M5.5 0.5 H13.5 V3.5 H5.5 Z" fill="#22c8ff"/><rect x="0.5" y="4" width="18" height="7" rx="1.5" fill="#22c8ff"/><path d="M4.5 9 H14.5 L15.5 16 H3.5 Z" fill="#ececec" stroke="#22c8ff" stroke-width="1.5"/></svg>
<svg class="b" style="left:2212.5px;top:1000.5px;" width="18" height="18" viewBox="0 0 18 18"><path d="M9 0.8 C5.2 0.8 4 4 4 7 C4 11 2.5 12.5 0.8 14 H17.2 C15.5 12.5 14 11 14 7 C14 4 12.8 0.8 9 0.8 Z" fill="#ff4b4b"/><circle cx="9" cy="15.6" r="1.4" fill="#ff4b4b"/></svg>
<svg class="b" style="left:2209.0px;top:1044.0px;" width="26" height="26" viewBox="0 0 26 26"><g stroke="#12a8f0" stroke-width="2.6" fill="#12a8f0"><path d="M11.5 13.5 L22 3.5 M11.5 13.5 L22 22" fill="none"/><path d="M1.2 10.6 L11.5 13.5" fill="none" stroke-width="2"/><circle cx="1.6" cy="10.7" r="0.7"/><circle cx="11.5" cy="13.7" r="3.6"/><circle cx="22" cy="3.8" r="2"/><circle cx="22" cy="22" r="2"/></g></svg>
<div class="b" style="left:2202.0px;top:1099.8px;width:42.6px;height:1.2px;background:#9a9a9a;"></div>
<svg class="b" style="left:2209.0px;top:1121.5px;" width="14" height="21" viewBox="0 0 14 21"><path d="M1 0.3 L1 15.2 L4.8 12 L7.4 18.4 L8.2 20 L10.8 19 L10 17.2 L7.6 11.2 L12.2 11 Z" fill="#000"/></svg>
<svg class="b" style="left:2208.0px;top:1169.0px;" width="19" height="19" viewBox="0 0 19 19"><path d="M11 0.8 L18.2 8 L16.6 9.8 L14.4 9.6 L11.4 12.6 L11.6 16 L10 17.6 L1.6 9.2 L3.2 7.6 L6.6 7.8 L9.6 4.8 L9.4 2.6 Z" fill="#000"/><path d="M6.2 13 L0.8 18.4" stroke="#000" stroke-width="1.8"/></svg>
<svg class="b" style="left:2206.5px;top:1219.0px;" width="20" height="18" viewBox="0 0 20 18"><rect x="1.2" y="1.2" width="17" height="11.5" rx="2.5" fill="none" stroke="#000" stroke-width="2"/><path d="M5 12.5 L5.5 16.5 L9.5 12.5 Z" fill="#000"/></svg>
<svg class="b" style="left:2206.0px;top:1264.5px;" width="21" height="21" viewBox="0 0 21 21"><g fill="none" stroke="#000" stroke-width="1.9"><path d="M1.5 19 L2 13.5 L13.8 1.8 L19 7 L7.2 18.8 Z"/><path d="M4.6 16.2 L15.4 5.4" stroke-width="1.3"/></g><path d="M1 19.6 H8 L1.6 13.6 Z" fill="#000"/></svg>
<svg class="b" style="left:2206.3px;top:1316.0px;" width="20" height="16" viewBox="0 0 20 16"><path d="M1.6 8 C4.4 3.4 7.2 1.8 10 1.8 C12.8 1.8 15.6 3.4 18.4 8 C15.6 12.6 12.8 14.2 10 14.2 C7.2 14.2 4.4 12.6 1.6 8 Z" fill="none" stroke="#000" stroke-width="2.1"/><circle cx="10" cy="8" r="3.4" fill="none" stroke="#000" stroke-width="1.5"/><circle cx="10" cy="8" r="1.4" fill="#000"/></svg>
<svg class="b" style="left:2208.5px;top:1358.5px;" width="16" height="25" viewBox="0 0 16 25"><path d="M8 0.5 C6 6 0.5 11 0.5 16.5 C0.5 21 4 24.5 8 24.5 C12 24.5 15.5 21 15.5 16.5 C15.5 11 10 6 8 0.5 Z" fill="#000"/><path d="M3.8 17 C4.4 20.4 6.2 21.6 8 21.6 C9.8 21.6 11.6 20.4 12.2 17" fill="none" stroke="#fff" stroke-width="1.4"/></svg>
<span class="t" style="top:217.5px;font-size:20px;color:#333;font-weight:bold;left:2277.8px;">Vorlage</span>
<div class="b" style="left:2272.0px;top:242.0px;width:83.0px;height:4.8px;background:#f57a38;"></div>
<span class="t" style="top:217.7px;font-size:19.5px;color:#555;left:2379.7px;">Inhalte</span>
<div class="b" style="left:2268.3px;top:254.8px;width:597.7px;height:94.2px;background:#f4f4f4;"></div>
<div class="b" style="left:2271.0px;top:261.0px;width:592.0px;height:81.8px;background:#fde0e0;"></div>
<span class="t" style="top:283.4px;font-size:19.8px;color:#111;left:2292.0px;">Sie bearbeiten jetzt die <b>Vorlage "Positionen - Varianten"</b> in</span>
<span class="t" style="top:310.8px;font-size:19.8px;color:#111;left:2292.0px;">der Kategorie <b>"Auftragsbestätigungen"</b>.</span>
<span class="t" style="top:370.8px;font-size:19.8px;color:#555;left:2282.0px;transform:scaleX(0.9538);">Seiten</span>
<span class="t" style="top:370.8px;font-size:19.8px;color:#555;left:2368.7px;transform:scaleX(0.9960);">Merkmale</span>
<span class="t" style="top:370.8px;font-size:19.8px;color:#555;left:2488.4px;">Kategorie</span>
<span class="t" style="top:370.8px;font-size:19.8px;color:#333;font-weight:bold;left:2603.0px;">Kriterien</span>
<div class="b" style="left:2599.0px;top:395.0px;width:90.0px;height:5.0px;background:#e0d01c;"></div>
<svg class="b" style="left:2687.0px;top:359.5px;" width="15" height="15" viewBox="0 0 15 15"><defs><clipPath id="bc"><circle cx="7.5" cy="7.5" r="7"/></clipPath></defs><circle cx="7.5" cy="7.5" r="7" fill="#1e96e6"/><text x="7.5" y="16.5" font-size="11.5" font-weight="bold" fill="#fff" text-anchor="middle" font-family="Liberation Sans" clip-path="url(#bc)">6</text></svg>
<div class="b" style="left:2268.3px;top:410.0px;width:597.7px;height:1158.8px;background:#f4f4f4;"></div>
<span class="t" style="top:435.8px;font-size:24px;color:#444;left:2288.0px;transform:scaleX(0.9382);">Kriterien auf Seite</span>
<span class="t" style="top:435.8px;font-size:24px;color:#222;left:2482.0px;">1</span>
<svg class="b" style="left:2298.5px;top:487.5px;" width="26" height="26" viewBox="0 0 26 26"><circle cx="13" cy="13" r="11.6" fill="none" stroke="#f08084" stroke-width="1.7"/><path d="M6.8 13 H19.2" stroke="#f08084" stroke-width="1.7"/></svg>
<svg class="b" style="left:2343.5px;top:487.5px;" width="26" height="26" viewBox="0 0 26 26"><circle cx="13" cy="13" r="11.6" fill="none" stroke="#2f9a52" stroke-width="1.7"/><path d="M6.8 13 H19.2 M13 6.8 V19.2" stroke="#2f9a52" stroke-width="1.7"/></svg>
<div class="b" style="left:2385.0px;top:480.4px;width:119.8px;height:38.2px;background:#fafafa;border:1px solid #dcdcdc;box-sizing:border-box;"></div>
<div class="b" style="left:2287.0px;top:523.7px;width:535.0px;height:791.8px;background:#fafafa;"></div>
<div class="b" style="left:2287.0px;top:523.7px;width:535.0px;height:42.3px;background:linear-gradient(180deg,#f6f6f6 0%,#ececec 45%,#d6d6d6 100%);"></div>
<span class="t" style="top:537.8px;font-size:19.8px;color:#444;left:2290.5px;transform:scaleX(0.9407);">Typ</span>
<span class="t" style="top:537.8px;font-size:19.8px;color:#444;left:2351.4px;transform:scaleX(1.0109);">Kriterium</span>
<span class="t" style="top:537.8px;font-size:19.8px;color:#444;left:2532.3px;transform:scaleX(0.9553);">Bezugstext</span>
<span class="t" style="top:537.8px;font-size:19.8px;color:#444;left:2676.3px;">Inhalt</span>
<span class="t" style="top:537.8px;font-size:19.8px;color:#444;left:2797.0px;transform:scaleX(0.9296);">Au</span>
<div class="b" style="left:2287.0px;top:566.0px;width:535.0px;height:45.0px;background:#f5eea8;"></div>
<div class="b" style="left:2289.0px;top:572.8px;width:19.0px;height:18.8px;background:#1aa6d6;border-radius:1.5px;"></div>
<span class="t" style="top:573.4px;font-size:16.5px;color:#fff;font-weight:bold;left:2292.5px;">K</span>
<span class="t" style="top:578.1px;font-size:12.5px;color:#555;left:2320.5px;">A</span>
<span class="t" style="top:573.9px;font-size:17.5px;color:#555;left:2328.0px;transform:scaleX(1.0267);">A</span>
<span class="t" style="top:577.1px;font-size:21.3px;color:#000;left:2350.5px;transform:scaleX(0.9221);">Beleg-Nr</span>
<span class="t" style="top:577.5px;font-size:21.3px;color:#111;left:2531.7px;transform:scaleX(0.9200);">Auftragsbestätic</span>
<span class="t" style="top:577.5px;font-size:21.3px;color:#000;left:2675.7px;transform:scaleX(0.8957);">AB54324</span>
<div class="b" style="left:2347.6px;top:566.0px;width:1.0px;height:45.0px;background:rgba(0,0,0,0.04);"></div>
<div class="b" style="left:2528.2px;top:566.0px;width:1.0px;height:45.0px;background:rgba(0,0,0,0.04);"></div>
<div class="b" style="left:2672.2px;top:566.0px;width:1.0px;height:45.0px;background:rgba(0,0,0,0.04);"></div>
<div class="b" style="left:2793.4px;top:566.0px;width:1.0px;height:45.0px;background:rgba(0,0,0,0.04);"></div>
<div class="b" style="left:2287.0px;top:611.0px;width:535.0px;height:45.0px;background:#f5f4f4;"></div>
<div class="b" style="left:2289.0px;top:617.8px;width:19.0px;height:18.8px;background:#1aa6d6;border-radius:1.5px;"></div>
<span class="t" style="top:618.4px;font-size:16.5px;color:#fff;font-weight:bold;left:2292.5px;">K</span>
<svg class="b" style="left:2321.5px;top:619.5px;" width="18" height="18" viewBox="0 0 18 18"><g fill="none" stroke="#555" stroke-width="1.2"><rect x="0.8" y="0.8" width="16" height="15.6" rx="1.8"/><path d="M0.8 4.8 H16.8"/></g><g fill="#555"><rect x="7.4" y="7.6" width="2" height="2"/><rect x="11.2" y="7.6" width="2" height="2"/><rect x="3.6" y="11.2" width="2" height="2"/><rect x="7.4" y="11.2" width="2" height="2"/><rect x="11.2" y="11.2" width="2" height="2"/></g></svg>
<span class="t" style="top:622.1px;font-size:21.3px;color:#000;left:2350.5px;transform:scaleX(0.9149);">Belegdatum</span>
<span class="t" style="top:622.5px;font-size:21.3px;color:#1e9be0;left:2531.7px;transform:scaleX(0.9245);">Datum</span>
<span class="t" style="top:622.5px;font-size:21.3px;color:#000;left:2675.7px;transform:scaleX(0.8865);">09.07.2021</span>
<div class="b" style="left:2347.6px;top:611.0px;width:1.0px;height:45.0px;background:rgba(0,0,0,0.04);"></div>
<div class="b" style="left:2528.2px;top:611.0px;width:1.0px;height:45.0px;background:rgba(0,0,0,0.04);"></div>
<div class="b" style="left:2672.2px;top:611.0px;width:1.0px;height:45.0px;background:rgba(0,0,0,0.04);"></div>
<div class="b" style="left:2793.4px;top:611.0px;width:1.0px;height:45.0px;background:rgba(0,0,0,0.04);"></div>
<div class="b" style="left:2287.0px;top:656.0px;width:535.0px;height:45.0px;background:#fafafa;"></div>
<div class="b" style="left:2289.0px;top:662.8px;width:19.0px;height:18.8px;background:#f5822a;border-radius:1.5px;"></div>
<span class="t" style="top:663.4px;font-size:16.5px;color:#fff;font-weight:bold;left:2293.0px;">P</span>
<svg class="b" style="left:2322.0px;top:665.0px;" width="16" height="17" viewBox="0 0 16 17"><path d="M1.5 1 H13 L3.2 15.2 H14.5 M10.6 1 L0.8 15.2 H3.2" fill="none" stroke="#555" stroke-width="1.1"/></svg>
<span class="t" style="top:665.2px;font-size:20.6px;color:#000;font-weight:bold;left:2350.5px;transform:scaleX(0.9517);">Pos.-Menge</span>
<span class="t" style="top:667.5px;font-size:21.3px;color:#1e9be0;left:2531.7px;transform:scaleX(0.9290);">Menge</span>
<span class="t" style="top:667.5px;font-size:21.3px;color:#000;left:2675.7px;transform:scaleX(0.8011);">1</span>
<div class="b" style="left:2347.6px;top:656.0px;width:1.0px;height:45.0px;background:rgba(0,0,0,0.04);"></div>
<div class="b" style="left:2528.2px;top:656.0px;width:1.0px;height:45.0px;background:rgba(0,0,0,0.04);"></div>
<div class="b" style="left:2672.2px;top:656.0px;width:1.0px;height:45.0px;background:rgba(0,0,0,0.04);"></div>
<div class="b" style="left:2793.4px;top:656.0px;width:1.0px;height:45.0px;background:rgba(0,0,0,0.04);"></div>
<div class="b" style="left:2287.0px;top:701.0px;width:535.0px;height:45.0px;background:#f5f4f4;"></div>
<div class="b" style="left:2289.0px;top:707.8px;width:19.0px;height:18.8px;background:#f5822a;border-radius:1.5px;"></div>
<span class="t" style="top:708.4px;font-size:16.5px;color:#fff;font-weight:bold;left:2293.0px;">P</span>
<span class="t" style="top:713.1px;font-size:12.5px;color:#555;left:2320.5px;">A</span>
<span class="t" style="top:708.9px;font-size:17.5px;color:#555;left:2328.0px;transform:scaleX(1.0267);">A</span>
<span class="t" style="top:710.2px;font-size:20.6px;color:#000;font-weight:bold;left:2350.5px;transform:scaleX(0.9567);">Pos.-Artikel</span>
<span class="t" style="top:712.5px;font-size:21.3px;color:#1e9be0;left:2531.7px;transform:scaleX(0.9088);">Text</span>
<span class="t" style="top:712.5px;font-size:21.3px;color:#000;left:2675.7px;transform:scaleX(0.9464);">Artikel</span>
<div class="b" style="left:2347.6px;top:701.0px;width:1.0px;height:45.0px;background:rgba(0,0,0,0.04);"></div>
<div class="b" style="left:2528.2px;top:701.0px;width:1.0px;height:45.0px;background:rgba(0,0,0,0.04);"></div>
<div class="b" style="left:2672.2px;top:701.0px;width:1.0px;height:45.0px;background:rgba(0,0,0,0.04);"></div>
<div class="b" style="left:2793.4px;top:701.0px;width:1.0px;height:45.0px;background:rgba(0,0,0,0.04);"></div>
<div class="b" style="left:2287.0px;top:746.0px;width:535.0px;height:45.0px;background:#fafafa;"></div>
<div class="b" style="left:2289.0px;top:752.8px;width:19.0px;height:18.8px;background:#f5822a;border-radius:1.5px;"></div>
<span class="t" style="top:753.4px;font-size:16.5px;color:#fff;font-weight:bold;left:2293.0px;">P</span>
<svg class="b" style="left:2323.0px;top:755.0px;" width="15" height="17" viewBox="0 0 15 17"><path d="M1 15.5 V1 H7.5 C11.5 1 11.5 8 7.5 8 H1 M3.4 1 V15.5 M1 15.5 H3.4 M6 8 L11 15.5 H13.4 L8.4 8" fill="none" stroke="#555" stroke-width="1.1"/></svg>
<span class="t" style="top:755.2px;font-size:20.6px;color:#000;font-weight:bold;left:2350.5px;transform:scaleX(0.9300);">Pos.-Betrag</span>
<span class="t" style="top:757.5px;font-size:21.3px;color:#1e9be0;left:2531.7px;transform:scaleX(0.8924);">Betrag</span>
<span class="t" style="top:757.5px;font-size:21.3px;color:#000;left:2675.7px;transform:scaleX(0.8819);">50,00</span>
<div class="b" style="left:2347.6px;top:746.0px;width:1.0px;height:45.0px;background:rgba(0,0,0,0.04);"></div>
<div class="b" style="left:2528.2px;top:746.0px;width:1.0px;height:45.0px;background:rgba(0,0,0,0.04);"></div>
<div class="b" style="left:2672.2px;top:746.0px;width:1.0px;height:45.0px;background:rgba(0,0,0,0.04);"></div>
<div class="b" style="left:2793.4px;top:746.0px;width:1.0px;height:45.0px;background:rgba(0,0,0,0.04);"></div>
<div class="b" style="left:2287.0px;top:791.0px;width:535.0px;height:45.0px;background:#f5f4f4;"></div>
<div class="b" style="left:2289.0px;top:797.8px;width:19.0px;height:18.8px;background:#f5822a;border-radius:1.5px;"></div>
<span class="t" style="top:798.4px;font-size:16.5px;color:#fff;font-weight:bold;left:2293.0px;">P</span>
<span class="t" style="top:803.1px;font-size:12.5px;color:#555;left:2320.5px;">A</span>
<span class="t" style="top:798.9px;font-size:17.5px;color:#555;left:2328.0px;transform:scaleX(1.0267);">A</span>
<span class="t" style="top:800.2px;font-size:20.6px;color:#000;font-weight:bold;left:2350.5px;transform:scaleX(0.9848);">Pos.-Artikel-Nr</span>
<span class="t" style="top:802.5px;font-size:21.3px;color:#1e9be0;left:2531.7px;transform:scaleX(0.9548);">Artikel</span>
<span class="t" style="top:802.5px;font-size:21.3px;color:#000;left:2675.7px;transform:scaleX(0.8862);">563</span>
<div class="b" style="left:2347.6px;top:791.0px;width:1.0px;height:45.0px;background:rgba(0,0,0,0.04);"></div>
<div class="b" style="left:2528.2px;top:791.0px;width:1.0px;height:45.0px;background:rgba(0,0,0,0.04);"></div>
<div class="b" style="left:2672.2px;top:791.0px;width:1.0px;height:45.0px;background:rgba(0,0,0,0.04);"></div>
<div class="b" style="left:2793.4px;top:791.0px;width:1.0px;height:45.0px;background:rgba(0,0,0,0.04);"></div>
<div class="b" style="left:2822.0px;top:523.7px;width:25.0px;height:791.8px;background:#f0f0f0;"></div>
<div class="b" style="left:2822.0px;top:549.0px;width:24.0px;height:403.7px;background:#c9c9c9;"></div>
<svg class="b" style="left:2827.0px;top:532.0px;" width="14" height="9" viewBox="0 0 14 9"><path d="M1.5 7.5 L7 2 L12.5 7.5" fill="none" stroke="#505050" stroke-width="2"/></svg>
<svg class="b" style="left:2827.0px;top:1297.5px;" width="14" height="9" viewBox="0 0 14 9"><path d="M1.5 1.5 L7 7 L12.5 1.5" fill="none" stroke="#505050" stroke-width="2"/></svg>
<div class="b" style="left:2287.0px;top:1315.5px;width:560.0px;height:24.7px;background:#f0f0f0;"></div>
<div class="b" style="left:2313.0px;top:1316.0px;width:26.0px;height:24.0px;background:#c9c9c9;"></div>
<svg class="b" style="left:2295.5px;top:1321.0px;" width="9" height="14" viewBox="0 0 9 14"><path d="M7.5 1.5 L2 7 L7.5 12.5" fill="none" stroke="#505050" stroke-width="2"/></svg>
<svg class="b" style="left:2802.5px;top:1321.0px;" width="9" height="14" viewBox="0 0 9 14"><path d="M1.5 1.5 L7 7 L1.5 12.5" fill="none" stroke="#505050" stroke-width="2"/></svg>
<span class="t" style="top:1366.6px;font-size:20px;color:#444;font-weight:bold;left:2283.7px;transform:scaleX(0.9832);">Kriterium/Pos:</span>
<div class="b" style="left:2466.0px;top:1357.4px;width:381.2px;height:32.2px;background:#fff;border:1.2px solid #6e6e6e;box-sizing:border-box;"></div>
<div class="b" style="left:2819.0px;top:1359.2px;width:26.0px;height:28.6px;background:#dcdcdc;border:1px solid #c4c4c4;box-sizing:border-box;"></div>
<svg class="b" style="left:2825.5px;top:1369.0px;" width="13" height="9" viewBox="0 0 13 9"><path d="M1.5 1.5 L6.5 6.5 L11.5 1.5" fill="none" stroke="#555" stroke-width="1.2"/></svg>
<span class="t" style="top:1365.7px;font-size:18.5px;color:#000;font-weight:bold;left:2470.5px;transform:scaleX(0.9856);">Beleg-Nr</span>
<div class="b" style="left:2286.3px;top:1402.3px;width:113.5px;height:37.2px;background:linear-gradient(120deg,#ededed 0%,#e9e9e9 60%,#dedede 100%);border:1px solid #cdcdcd;box-sizing:border-box;border-radius:4px;"></div>
<div class="b" style="left:2286.8px;top:1402.8px;width:29.5px;height:36.2px;background:linear-gradient(90deg,#e8e8e8,#f3f3f3 50%,#e8e8e8);border:1px solid #d6d6d6;box-sizing:border-box;border-radius:4px;"></div>
<span class="t" style="top:1412.3px;font-size:17.6px;color:#111;left:2334.2px;transform:scaleX(1.0105);">Inhalt</span>
<svg class="b" style="left:2409.0px;top:1410.0px;" width="25" height="25" viewBox="0 0 25 25"><g fill="none" stroke="#444" stroke-width="1.3"><circle cx="12.5" cy="12.5" r="4"/><path d="M10.6 1.5 H14.4 L15 4.6 L17.2 5.8 L20.2 4.7 L22.1 8 L19.7 10 V12.5 V15 L22.1 17 L20.2 20.3 L17.2 19.2 L15 20.4 L14.4 23.5 H10.6 L10 20.4 L7.8 19.2 L4.8 20.3 L2.9 17 L5.3 15 V10 L2.9 8 L4.8 4.7 L7.8 5.8 L10 4.6 Z" stroke-linejoin="round"/></g></svg>
<svg class="b" style="left:2441.0px;top:1418.5px;" width="11" height="8" viewBox="0 0 11 8"><path d="M1.5 1.5 L5.5 5.5 L9.5 1.5" fill="none" stroke="#333" stroke-width="1.2"/></svg>
<span class="t" style="top:1413.0px;font-size:20.5px;color:#000;font-weight:bold;left:2466.2px;">AB54324</span>
<span class="t" style="top:1409.1px;font-size:26px;color:#222;font-weight:bold;left:2766.5px;transform:scaleX(1.0206);">+</span>
<div class="b" style="left:2787.0px;top:1402.3px;width:60.2px;height:37.2px;background:#fff;border:1.2px solid #6e6e6e;box-sizing:border-box;"></div>
<span class="t" style="top:1409.4px;font-size:18.5px;color:#000;font-weight:bold;left:2832.2px;">0</span>
<div class="b" style="left:2286.3px;top:1447.4px;width:113.5px;height:37.0px;background:linear-gradient(120deg,#ededed 0%,#e9e9e9 60%,#dedede 100%);border:1px solid #cdcdcd;box-sizing:border-box;border-radius:4px;"></div>
<div class="b" style="left:2286.8px;top:1447.9px;width:29.5px;height:36.0px;background:linear-gradient(90deg,#e8e8e8,#f3f3f3 50%,#e8e8e8);border:1px solid #d6d6d6;box-sizing:border-box;border-radius:4px;"></div>
<span class="t" style="top:1457.8px;font-size:17.6px;color:#111;left:2332.5px;transform:scaleX(0.9421);">Bezug</span>
<span class="t" style="top:1458.5px;font-size:20.5px;color:#000;font-weight:bold;left:2466.2px;transform:scaleX(0.9703);">Auftragsbestätigung</span>
<div class="b" style="left:2276.5px;top:1514.0px;width:171.0px;height:44.6px;background:#fdfdfd;border:1px solid #dedede;box-sizing:border-box;border-radius:3px;"></div>
<span class="t" style="top:1529.3px;font-size:17.6px;color:#222;left:2292.0px;transform:scaleX(1.0249);">Weitere Optionen</span>
<div class="b" style="left:2462.2px;top:1517.0px;width:167.6px;height:39.0px;background:linear-gradient(120deg,#ededed 0%,#e9e9e9 60%,#dedede 100%);border:1px solid #cdcdcd;box-sizing:border-box;border-radius:4px;"></div>
<div class="b" style="left:2462.7px;top:1517.5px;width:29.5px;height:38.0px;background:linear-gradient(90deg,#e8e8e8,#f3f3f3 50%,#e8e8e8);border:1px solid #d6d6d6;box-sizing:border-box;border-radius:4px;"></div>
<span class="t" style="top:1529.3px;font-size:17.6px;color:#111;left:2514.0px;transform:scaleX(1.0110);">Vorl. testen</span>
<div class="b" style="left:2713.3px;top:1514.0px;width:144.5px;height:44.6px;background:#fdfdfd;border:1px solid #dedede;box-sizing:border-box;border-radius:3px;"></div>
<span class="t" style="top:1529.3px;font-size:17.6px;color:#222;left:2727.8px;transform:scaleX(1.0093);">Standardwerte</span>
<div class="b" style="left:0.0px;top:1577.0px;width:2871.0px;height:69.0px;background:#f5f5f5;"></div>
<div class="b" style="left:13.0px;top:1581.0px;width:206.0px;height:63.0px;background:#f6f6f6;"></div>
<div class="b" style="left:229.5px;top:1581.0px;width:111.5px;height:63.0px;background:#f6f6f6;"></div>
<div class="b" style="left:351.7px;top:1581.0px;width:248.3px;height:63.0px;background:#f6f6f6;"></div>
<span class="t" style="top:1591.0px;font-size:17.6px;color:#333;left:18.2px;transform:scaleX(1.0314);">Aufgaben/Wiedervorl.</span>
<span class="t" style="top:1617.6px;font-size:19px;color:#222;font-weight:bold;left:18.2px;transform:scaleX(0.9668);word-spacing:4px;">0 / 0 / 0 / 0</span>
<span class="t" style="top:1605.2px;font-size:17.6px;color:#333;left:235.0px;transform:scaleX(0.9401);">Recherche</span>
<svg class="b" style="left:358.0px;top:1592.0px;" width="36" height="42" viewBox="0 0 36 42"><g fill="none" stroke="#3a3a3a" stroke-width="1.9"><path d="M8 14 V6 Q8 3 11 3 H22 L31 12 V32 Q31 35 28 35 H24"/><path d="M21.5 3.5 V9.5 Q21.5 12.5 24.5 12.5 H30.5"/></g><circle cx="11.5" cy="27.5" r="10" fill="#3a3a3a"/><path d="M6.5 27.5 L10.2 31.2 L16.8 24" fill="none" stroke="#fff" stroke-width="2.4"/></svg>
<span class="t" style="top:1591.0px;font-size:17.6px;color:#333;left:402.3px;transform:scaleX(0.9924);">DMS.RZ - Validierung</span>
<span class="t" style="top:1617.4px;font-size:19.5px;color:#111;font-weight:bold;left:402.3px;transform:scaleX(0.9967);">DMS.RZ</span>
<div class="b" style="left:412.0px;top:1043.0px;width:620.0px;height:552.0px;background:#ffffff;border:1.2px solid #7d7d7d;box-sizing:border-box;box-shadow:0 0 3px rgba(0,0,0,.15);"></div>
<div class="b" style="left:1001.0px;top:1088.0px;width:30.0px;height:442.7px;background:#fafafa;"></div>
<svg class="b" style="left:424.0px;top:1053.0px;" width="24" height="24" viewBox="0 0 24 24"><rect x="0" y="0" width="24" height="24" rx="3" fill="#3b2b30"/><path d="M6.5 10 L9.4 5.5 L17.3 4.7 L19.9 8.5 L17.1 12.4 L8.1 14.2 L5.5 17.3 L7.9 20.1 L16.5 21" fill="none" stroke="#ff6a00" stroke-width="3.9" stroke-linejoin="round" transform="rotate(8 12 12) translate(1 0.6) scale(0.93)"/></svg>
<span class="t" style="top:1058.3px;font-size:17.6px;color:#111;left:453.3px;transform:scaleX(0.9966);">Position 6</span>
<svg class="b" style="left:845.0px;top:1054.0px;" width="165" height="24" viewBox="0 0 165 24"><g stroke="#1a1a1a" stroke-width="1.3" fill="none"><path d="M4 11.5 H19.5"/><rect x="73.6" y="4.6" width="14" height="14"/><path d="M144 4.4 L158.6 19 M158.6 4.4 L144 19"/></g></svg>
<span class="t" style="top:1101.0px;font-size:20px;color:#444;font-weight:bold;left:428.6px;transform:scaleX(0.9759);">Pos.-Kriterien</span>
<div class="b" style="left:423.0px;top:1122.2px;width:140.0px;height:4.8px;background:#f57a38;"></div>
<span class="t" style="top:1101.1px;font-size:19.8px;color:#555;left:584.0px;transform:scaleX(1.0198);">Text</span>
<span class="t" style="top:1101.1px;font-size:19.8px;color:#555;left:652.9px;">Zeilen d. Position</span>
<div class="b" style="left:422.0px;top:1137.8px;width:570.0px;height:389.2px;background:#f4f4f4;"></div>
<span class="t" style="top:1160.8px;font-size:17.3px;color:#000;font-weight:bold;left:434.3px;">Pos.-Artikel-Nr</span>
<div class="b" style="left:655.2px;top:1152.0px;width:323.8px;height:35.0px;background:#fbf6f6;border:1.3px solid #707070;box-sizing:border-box;"></div>
<span class="t" style="top:1161.2px;font-size:21.3px;color:#000;left:663.7px;transform:scaleX(0.9125);">2GM2F</span>
<span class="t" style="top:1200.9px;font-size:17.3px;color:#000;font-weight:bold;left:434.3px;transform:scaleX(0.9589);">Pos.-Menge</span>
<div class="b" style="left:655.2px;top:1192.1px;width:323.8px;height:35.0px;background:#fff;border:1.3px solid #707070;box-sizing:border-box;"></div>
<span class="t" style="top:1201.3px;font-size:21.3px;color:#000;left:659.0px;transform:scaleX(0.7167);">1</span>
<span class="t" style="top:1241.0px;font-size:17.3px;color:#000;font-weight:bold;left:434.3px;transform:scaleX(0.9631);">Pos.-Artikel</span>
<div class="b" style="left:655.2px;top:1232.2px;width:323.8px;height:35.0px;background:#fbf6f6;border:1.3px solid #707070;box-sizing:border-box;"></div>
<span class="t" style="top:1241.4px;font-size:21.3px;color:#000;left:663.7px;transform:scaleX(0.9515);">Artikel 2GM2F</span>
<span class="t" style="top:1281.1px;font-size:17.3px;color:#000;font-weight:bold;left:434.3px;transform:scaleX(0.9433);">Pos.-Betrag</span>
<div class="b" style="left:655.2px;top:1272.3px;width:323.8px;height:35.0px;background:#fdfafa;border:1.3px solid #707070;box-sizing:border-box;"></div>
<span class="t" style="top:1281.5px;font-size:21.3px;color:#000;left:658.5px;transform:scaleX(0.9143);">350</span>
<span class="t" style="top:1321.2px;font-size:17.3px;color:#000;font-weight:bold;left:434.3px;transform:scaleX(0.9710);">Pos.-Liefertermin</span>
<div class="b" style="left:655.2px;top:1312.0px;width:323.8px;height:37.8px;background:#fff;border:1.3px solid #5a5a5a;box-sizing:border-box;box-shadow:0 0 4px 1.5px rgba(90,170,240,.55);"></div>
<div class="b" style="left:659.0px;top:1316.4px;width:98.6px;height:29.4px;background:#0078d7;"></div>
<div class="b" style="left:757.2px;top:1316.4px;width:1.2px;height:29.4px;background:#e07820;"></div>
<span class="t" style="top:1322.6px;font-size:21.3px;color:#fff;left:660.5px;transform:scaleX(0.8912);">12.07.2021</span>
<div class="b" style="left:950.2px;top:1314.5px;width:1.1px;height:33.5px;background:#b0b0b0;"></div>
<svg class="b" style="left:956.0px;top:1326.0px;" width="16" height="11" viewBox="0 0 16 11"><path d="M1.5 2 L7.5 8 L13.5 2" fill="none" stroke="#444" stroke-width="1.2"/></svg>
<div class="b" style="left:1006.0px;top:1325.2px;width:20.4px;height:5.0px;background:#1e90ff;"></div>
<div class="b" style="left:436.0px;top:1472.0px;width:42.8px;height:45.0px;background:#fdfdfd;border:1px solid #e0e0e0;box-sizing:border-box;border-radius:3px;"></div>
<svg class="b" style="left:444.3px;top:1482.0px;" width="26" height="26" viewBox="0 0 26 26"><circle cx="13" cy="13" r="11.6" fill="none" stroke="#f08084" stroke-width="1.7"/><path d="M6.8 13 H19.2" stroke="#f08084" stroke-width="1.7"/></svg>
<div class="b" style="left:704.0px;top:1472.0px;width:160.6px;height:45.0px;background:#fdfdfd;border:1px solid #e0e0e0;box-sizing:border-box;border-radius:3px;"></div>
<span class="t" style="top:1486.3px;font-size:17.6px;color:#333;left:717.5px;transform:scaleX(0.9652);">Nächste Pos.</span>
<span class="t" style="top:1482.8px;font-size:24px;color:#555;font-weight:bold;left:831.5px;transform:scaleX(0.8031);-webkit-text-stroke:0.4px #555;">F5</span>
<div class="b" style="left:874.0px;top:1472.0px;width:43.0px;height:45.0px;background:#eaeec0;border:1px solid #dfe3a8;box-sizing:border-box;border-radius:3px;"></div>
<span class="t" style="top:1482.8px;font-size:24px;color:#555;font-weight:bold;left:883.8px;transform:scaleX(0.8388);-webkit-text-stroke:0.4px #555;">F6</span>
<div class="b" style="left:926.0px;top:1472.0px;width:43.0px;height:45.0px;background:#f9c0c8;border:1px solid #f3a8b2;box-sizing:border-box;border-radius:3px;"></div>
<span class="t" style="top:1482.8px;font-size:24px;color:#555;font-weight:bold;left:936.2px;transform:scaleX(0.8031);-webkit-text-stroke:0.4px #555;">F7</span>
<div class="b" style="left:413.2px;top:1530.7px;width:617.6px;height:63.1px;background:#f0f0f0;"></div>
<svg class="b" style="left:429.0px;top:1548.0px;" width="29" height="28" viewBox="0 0 29 28"><g fill="none" stroke="#444" stroke-width="1.7"><path d="M14 4.2 L25 2.4 Q27 2.2 27 4.2 V24 Q27 26 25 25.8 L14 24"/><path d="M14 4.2 V10.5 M14 18 V24"/><path d="M2 14.2 H17 M6.6 9.6 L2 14.2 L6.6 18.8"/></g><circle cx="20.8" cy="14.4" r="1.2" fill="#444"/></svg>
<span class="t" style="top:1554.2px;font-size:17.6px;color:#333;left:466.4px;transform:scaleX(0.8152);">ESC</span>
<div class="b" style="left:521.0px;top:1542.2px;width:158.8px;height:41.0px;background:linear-gradient(120deg,#ededed 0%,#e9e9e9 60%,#dedede 100%);border:1px solid #cdcdcd;box-sizing:border-box;border-radius:4px;"></div>
<div class="b" style="left:521.5px;top:1542.7px;width:30.5px;height:40.0px;background:linear-gradient(90deg,#e8e8e8,#f3f3f3 50%,#e8e8e8);border:1px solid #d6d6d6;box-sizing:border-box;border-radius:4px;"></div>
<span class="t" style="top:1555.6px;font-size:17.6px;color:#111;left:577.2px;transform:scaleX(1.0155);">Autosave</span>
<svg class="b" style="left:943.5px;top:1548.0px;" width="28" height="28" viewBox="0 0 28 28"><g fill="none" stroke="#333" stroke-width="1.8"><path d="M1.5 4.5 Q1.5 1.5 4.5 1.5 H21 L26 6.5 V23.5 Q26 26.5 23 26.5 H4.5 Q1.5 26.5 1.5 23.5 Z"/><path d="M7 2 V9.5 H19.5 V2"/><path d="M5.5 26 V16 H22 V26"/></g></svg>
<span class="t" style="top:1552.6px;font-size:18.5px;color:#000;font-weight:bold;left:981.0px;transform:scaleX(0.8911);">F11</span>
</body></html>
